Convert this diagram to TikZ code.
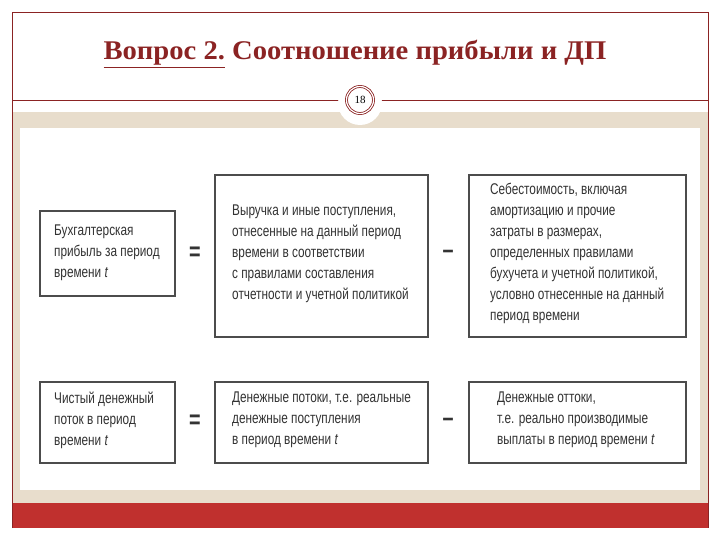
\documentclass[tikz,border=0pt]{standalone}
\usepackage{fontspec}
\setmainfont{Liberation Serif}
\newfontfamily\boxfont[FakeStretch=0.76]{Liberation Sans}
\definecolor{dred}{HTML}{8B2323}
\definecolor{band}{HTML}{C0302E}
\definecolor{beige}{HTML}{E8DDCC}
\definecolor{txt}{HTML}{333333}
\begin{document}
\begin{tikzpicture}[x=1pt,y=-1pt,
  bx/.style={draw=black!70,line width=1.5pt,fill=white},
  tx/.style={anchor=north west,align=left,text=txt,font=\boxfont\fontsize{15.5}{21}\selectfont,inner sep=0pt},
  op/.style={text=txt,font=\boxfont\bfseries\fontsize{26}{26}\selectfont}]
\useasboundingbox (0,0) rectangle (720,540);
\fill[white] (0,0) rectangle (720,540);
\fill[beige] (12,112) rectangle (708,503);
\fill[white] (20,128) rectangle (700,490);
\fill[band] (12,503) rectangle (708,528);
\draw[dred,line width=0.6pt] (12,528) -- (12,12) -- (708,12) -- (708,528);
\draw[dred,line width=0.8pt] (12,100) -- (708,100);
\node[text=dred,font=\fontsize{27}{27}\selectfont\bfseries,xscale=1.06] (title) at (355,54) {\underline{Вопрос 2.} Соотношение прибыли и ДП};
\fill[white] (360,103) circle (22);
\node[circle,draw=dred,double=white,double distance=1.2pt,line width=0.8pt,fill=white,minimum size=27pt,inner sep=0pt,font=\fontsize{11}{11}\selectfont] (num) at (360,100) {18};
% row 1
\draw[bx] (40,211) rectangle (175,296);
\node[tx] (a1) at (54,225) {Бухгалтерская\\прибыль за период\\времени \textit{t}};
\draw[bx] (215,175) rectangle (428,337);
\node[tx] (b1) at (232,205) {Выручка и иные поступления,\\отнесенные на данный период\\времени в соответствии\\с правилами составления\\отчетности и учетной политикой};
\draw[bx] (469,175) rectangle (686,337);
\node[tx] (c1) at (490,183) {Себестоимость, включая\\амортизацию и прочие\\затраты в размерах,\\определенных правилами\\бухучета и учетной политикой,\\условно отнесенные на данный\\период времени};
\node[op] (eq1) at (195,254) {=};
\node[op] (mi1) at (448,254) {–};
% row 2
\draw[bx] (40,382) rectangle (175,463);
\node[tx] (a2) at (54,392) {Чистый денежный\\поток в период\\времени \textit{t}};
\draw[bx] (215,382) rectangle (428,463);
\node[tx] (b2) at (232,392) {Денежные потоки, т.е. реальные\\денежные поступления\\в период времени \textit{t}};
\draw[bx] (469,382) rectangle (686,463);
\node[tx] (c2) at (497,392) {Денежные оттоки,\\т.е. реально производимые\\выплаты в период времени \textit{t}};
\node[op] (eq2) at (195,422) {=};
\node[op] (mi2) at (448,422) {–};
\end{tikzpicture}
\end{document}
